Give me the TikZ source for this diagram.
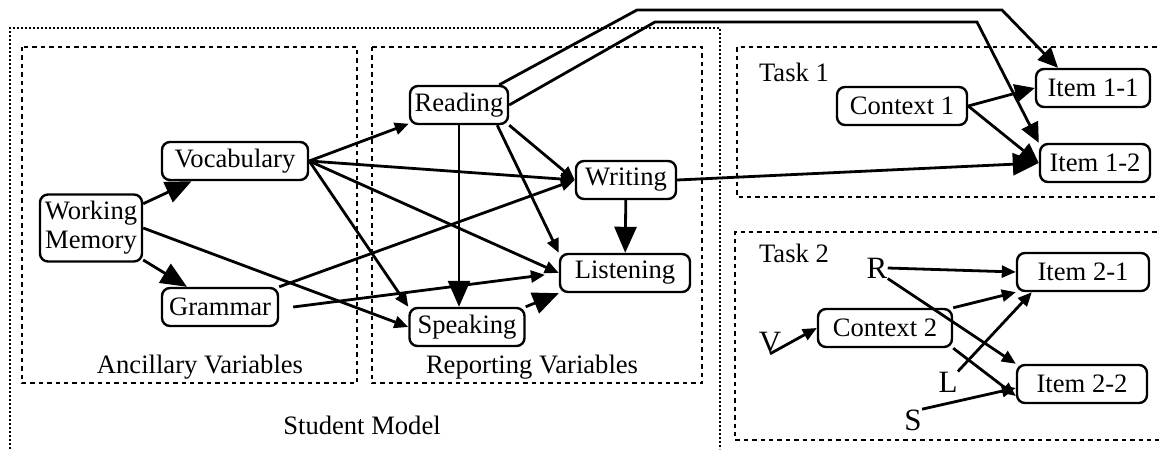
\documentclass[tikz,border=0pt]{standalone}
\usepackage{fontspec}
\usepackage{xcolor}
\setmainfont{Liberation Serif}
\usetikzlibrary{arrows.meta,positioning}

\begin{document}
\begin{tikzpicture}[x=0.5pt,y=-0.5pt,
  font=\fontsize{13.3pt}{14.5pt}\selectfont,
  var/.style={draw,line width=1.2pt,rounded corners=4pt,minimum height=19pt,inner xsep=2pt,inner ysep=1pt},
  letter/.style={inner sep=0pt,font=\fontsize{15.5pt}{16pt}\selectfont},
  outerbox/.style={line width=0.9pt,dash pattern=on 1.2pt off 0.8pt},
  innerbox/.style={line width=1.1pt,dash pattern=on 2.2pt off 2pt},
  link/.style={line width=1.4pt,-{Triangle[length=7pt,width=6pt]}},
  midlink/.style={line width=1.4pt,-{Triangle[length=10pt,width=9pt]}},
  biglink/.style={line width=1.4pt,-{Triangle[length=13pt,width=11pt]}}]
  \useasboundingbox (0,0) rectangle (1159,449);

  \draw[outerbox] (10,449) -- (10,28) -- (720,28) -- (720,449);
  \draw[innerbox] (22,47) rectangle (357,383);
  \draw[innerbox] (372,47) rectangle (702,383);
  \draw[innerbox] (1165,47) -- (737,47) -- (737,197) -- (1165,197);
  \draw[innerbox] (1165,232) -- (735,232) -- (735,440) -- (1165,440);

  \node (anc) at (200,367) {Ancillary Variables};
  \node (rep) at (532,367) {Reporting Variables};
  \node (stud) at (362,425) {Student Model};
  \node[anchor=west] (t1) at (752,72) {Task 1};
  \node[anchor=west] (t2) at (752,253) {Task 2};

  \node[var,align=center,minimum width=51pt,minimum height=33.5pt] (wm) at (91,228) {Working\\Memory};
  \node[var,minimum width=73pt] (voc) at (235,161) {Vocabulary};
  \node[var,minimum width=58pt] (gram) at (220,307) {Grammar};
  \node[var,minimum width=49pt] (read) at (459,105) {Reading};
  \node[var,minimum width=50pt] (writ) at (626,180) {Writing};
  \node[var,minimum width=65pt] (list) at (625,273) {Listening};
  \node[var,minimum width=57.5pt] (speak) at (467,327) {Speaking};

  \node[var,minimum width=65pt] (c1) at (902,106) {Context 1};
  \node[var,minimum width=57pt] (i11) at (1093,88) {Item 1-1};
  \node[var,minimum width=55pt] (i12) at (1095,163) {Item 1-2};

  \node[var,minimum width=67pt] (c2) at (885,328) {Context 2};
  \node[var,minimum width=66pt] (i21) at (1083,272) {Item 2-1};
  \node[var,minimum width=65pt] (i22) at (1082,384) {Item 2-2};
  \node[letter] (r) at (877,268) {R};
  \node[letter] (v) at (770,343) {V};
  \node[letter] (l) at (948,382) {L};
  \node[letter] (s) at (913,420) {S};

  \draw[biglink] (wm) -- (voc);
  \draw[biglink] (wm) -- (gram);
  \draw[link] (wm.east) -- (speak.west);
  \draw[link] (voc.east) -- (read);
  \draw[link] (voc.east) -- (writ.west);
  \draw[link] (voc.east) -- (list.west);
  \draw[link] (voc.east) -- (speak.north west);
  \draw[link] (gram.north east) -- (writ.west);
  \draw[link,shorten >=7pt] ([xshift=7pt]gram.east) -- (list.west);
  \draw[biglink] (read.south) -- (read.south |- speak.north);
  \draw[link] (read.south east) -- (writ.west);
  \draw[link] ([xshift=-6pt]read.south east) -- (list.north west);
  \draw[biglink] (writ) -- (list);
  \draw[biglink] (speak.north east) -- (list.south west);
  \draw[midlink] ([xshift=-5pt]read.north east) -- (637,10) -- (1002,10) -- (i11.150);
  \draw[midlink] (read.east) -- (655,22) -- (977,22) -- (i12.north west);
  \draw[biglink] (writ.east) -- (i12.west);
  \draw[midlink] (c1.east) -- (i11.west);
  \draw[midlink] (c1.east) -- (i12.west);

  \draw[link] (r.east) -- (i21.west);
  \draw[link] (r.south east) -- (i22.north west);
  \draw[link] (c2.north east) -- (i21.south west);
  \draw[link] (c2.south east) -- ([yshift=-6pt]i22.west);
  \draw[link] (l.north east) -- ([xshift=8pt]i21.south west);
  \draw[link] (s.north east) -- ([yshift=-2pt]i22.west);
  \draw[link] (v.south) -- (c2.west);
\end{tikzpicture}
\end{document}
